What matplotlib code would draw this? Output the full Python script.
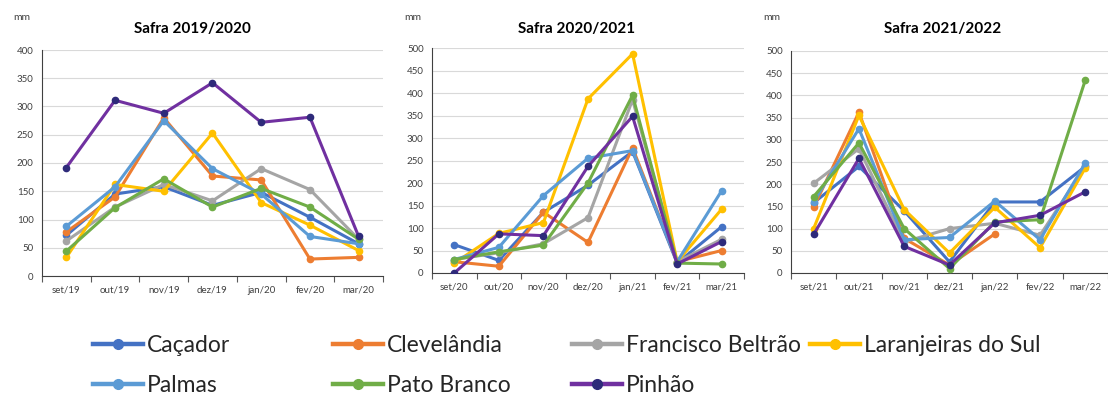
import numpy as np
import matplotlib.pyplot as plt
from matplotlib.lines import Line2D

plt.rcParams['font.family'] = ['Lato', 'DejaVu Sans']

nan = np.nan
stations = ["Caçador", "Clevelândia", "Francisco Beltrão", "Laranjeiras do Sul",
            "Palmas", "Pato Branco", "Pinhão"]
colors = ["#4472C4", "#ED7D31", "#A5A5A5", "#FFC000", "#5B9BD5", "#70AD47", "#7030A0"]

months_1 = ["set/19", "out/19", "nov/19", "dez/19", "jan/20", "fev/20", "mar/20"]
months_2 = ["set/20", "out/20", "nov/20", "dez/20", "jan/21", "fev/21", "mar/21"]
months_3 = ["set/21", "out/21", "nov/21", "dez/21", "jan/22", "fev/22", "mar/22"]

# precipitation (mm) per station, safra 2019/2020
safra_1 = [
    [72, 145, 158, 125, 148, 104, 57],
    [78, 140, 280, 177, 170, 30, 33],
    [62, 122, 162, 133, 190, 153, 65],
    [33, 162, 150, 253, 130, 90, 45],
    [88, 158, 275, 190, 145, 70, 57],
    [44, 121, 172, 122, 155, 122, 65],
    [192, 311, 288, 342, 272, 281, 70],
]
# safra 2020/2021
safra_2 = [
    [63, 28, 135, 195, 270, 22, 103],
    [25, 15, 135, 68, 278, 25, 50],
    [30, 45, 65, 123, 385, 25, 75],
    [22, 88, 112, 387, 487, 25, 142],
    [30, 57, 172, 255, 272, 25, 183],
    [30, 47, 62, 200, 395, 22, 20],
    [0, 87, 83, 237, 348, 20, 70],
]
# safra 2021/2022
safra_3 = [
    [158, 240, 140, 25, 160, 160, 240],
    [148, 362, 78, 18, 88, nan, nan],
    [202, 280, 70, 100, 112, 85, 240],
    [100, 355, 143, 45, 148, 57, 237],
    [160, 325, 75, 80, 162, 75, 248],
    [172, 293, 100, 10, 115, 120, 435],
    [87, 258, 60, 18, 113, 130, 183],
]
titles = ["Safra 2019/2020", "Safra 2020/2021", "Safra 2021/2022"]

W, H = 1108, 398
fig = plt.figure(figsize=(W / 100, H / 100), dpi=100)

# pixel boxes: left, right, top, bottom, ymax, xright, mm x, title x
panels = [
    (42, 383, 50, 276, 400, 6.5, 22, 192, months_1, safra_1),
    (432, 744, 48, 273, 500, 6.5, 413, 577, months_2, safra_2),
    (791, 1108, 51, 273, 500, 6.24, 772, 943, months_3, safra_3),
]

for i, (l, r, t, b, ymax, xr, mmx, tx, months, data) in enumerate(panels):
    ax = fig.add_axes([l / W, 1 - b / H, (r - l) / W, (b - t) / H])
    x = np.arange(len(months))
    for vals, c, name in zip(data, colors, stations):
        mfc = "#2E2A7A" if name == "Pinhão" else c
        ax.plot(x, vals, color=c, lw=2.2, marker="o", ms=4.5,
                mfc=mfc, mec=mfc, solid_capstyle="round", zorder=3)
    ax.set_xlim(-0.5, xr)
    ax.set_ylim(0, ymax)
    ax.set_yticks(np.arange(0, ymax + 1, 50))
    ax.yaxis.grid(True, color="#D9D9D9", lw=0.8)
    ax.set_axisbelow(True)
    ax.set_xticks(x)
    ax.set_xticklabels(months)
    ax.set_xticks(np.arange(-0.5, 7, 1), minor=True)
    ax.tick_params(axis="x", which="major", length=0, pad=7)
    ax.tick_params(axis="x", which="minor", length=4, color="#595959", width=0.8)
    ax.tick_params(axis="y", length=0, pad=6)
    ax.tick_params(labelsize=7, labelcolor="#404040")
    for s in ["top", "right"]:
        ax.spines[s].set_visible(False)
    ax.spines["left"].set_color("#404040")
    ax.spines["bottom"].set_color("#404040")
    ax.spines["left"].set_linewidth(0.8)
    ax.spines["bottom"].set_linewidth(0.8)
    fig.text(mmx / W, 1 - 18 / H, "mm", fontsize=7.5, color="#404040",
             ha="center", va="center")
    fig.text(tx / W, 1 - 29 / H, titles[i], fontsize=11, fontweight="bold",
             ha="center", va="center", color="#000000")

# legend, one entry at a time to match the reference spacing
leg_x = [93, 333, 572, 810, 93, 333, 572]
leg_y = [346, 346, 346, 346, 386, 386, 386]
for name, c, lx, ly in zip(stations, colors, leg_x, leg_y):
    mfc = "#2E2A7A" if name == "Pinhão" else c
    h = Line2D([], [], color=c, lw=3.2, marker="o", ms=7, mfc=mfc, mec=mfc)
    fig.legend([h], [name], loc="center left", bbox_to_anchor=(lx / W, 1 - ly / H),
               frameon=False, fontsize=16.5, handlelength=2.2, handletextpad=0.15,
               borderpad=0, borderaxespad=0, labelcolor="#262626")

fig.savefig("out.png", dpi=100)
